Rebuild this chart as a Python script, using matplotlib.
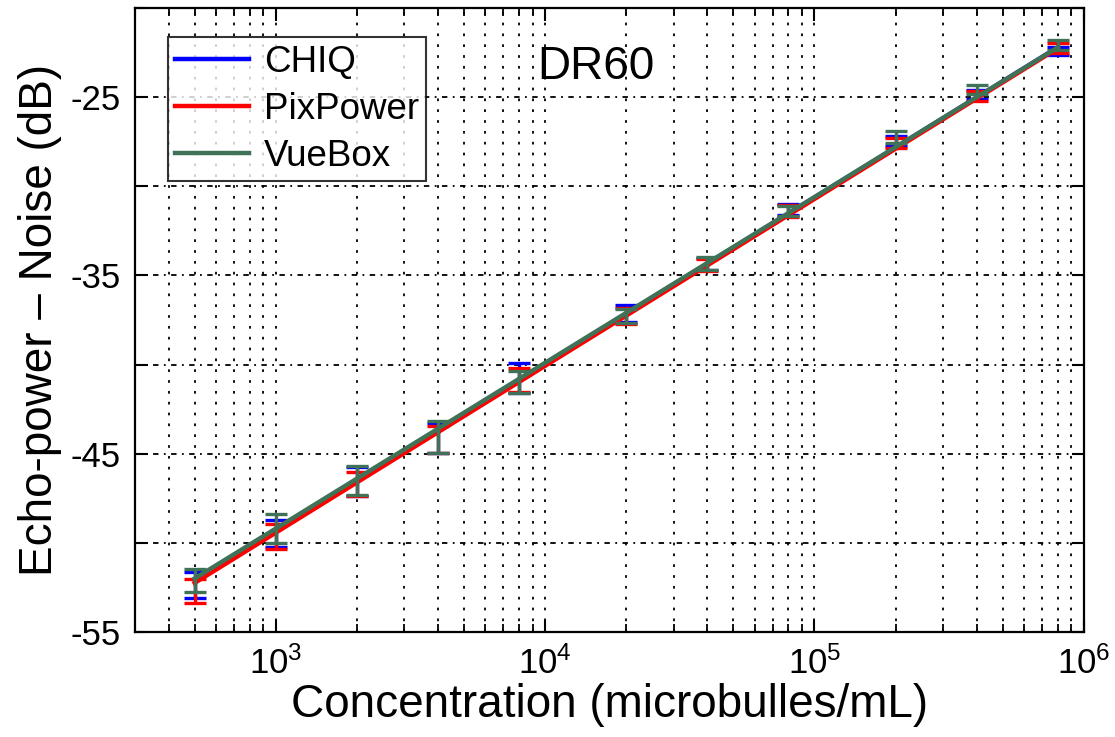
import numpy as np
import matplotlib
matplotlib.use("Agg")
import matplotlib.pyplot as plt
from matplotlib.lines import Line2D
from matplotlib.ticker import LogLocator, NullFormatter

plt.rcParams['font.family'] = ['Liberation Sans', 'DejaVu Sans']
plt.rcParams['mathtext.fontset'] = 'custom'
plt.rcParams['mathtext.rm'] = 'Liberation Sans'
plt.rcParams['mathtext.it'] = 'Liberation Sans'

# concentrations (microbulles/mL)
conc = [500, 1000, 2000, 4000, 8000, 20000, 40000, 80000, 200000, 400000, 800000]

# mean +- std for each software
chiq_mean = [-52.36, -49.47, -46.55, -44.10, -40.75, -37.15, -34.35, -31.30, -27.45, -24.85, -22.40]
chiq_err = [0.73, 0.76, 0.80, 0.84, 0.82, 0.48, 0.35, 0.30, 0.30, 0.25, 0.22]
pix_mean = [-52.70, -49.63, -46.69, -44.20, -40.85, -37.25, -34.40, -31.37, -27.55, -24.95, -22.23]
pix_err = [0.65, 0.71, 0.68, 0.78, 0.67, 0.45, 0.35, 0.33, 0.28, 0.28, 0.27]
vue_mean = [-52.10, -49.19, -46.49, -44.05, -41.00, -37.26, -34.33, -31.38, -27.24, -24.57, -22.07]
vue_err = [0.65, 0.82, 0.82, 0.90, 0.62, 0.38, 0.37, 0.28, 0.35, 0.24, 0.30]

# regression lines: dB = slope*log10(conc) + intercept
chiq_fit = [9.33, -77.28]
pix_fit = [9.36, -77.51]
vue_fit = [9.30, -77.10]

series = [("CHIQ", chiq_mean, chiq_err, chiq_fit, "#0000ff"),
          ("PixPower", pix_mean, pix_err, pix_fit, "#ff0000"),
          ("VueBox", vue_mean, vue_err, vue_fit, "#3f7257")]

yticks = [-55, -50, -45, -40, -35, -30, -25, -20]
ylabels = ["-55", "", "-45", "", "-35", "", "-25", ""]

fig = plt.figure(figsize=(11.15, 7.37), dpi=100)
ax = fig.add_axes([0.121, 0.1425, 0.851, 0.8465])

lx = np.log10(conc)
handles = []
for name, m, e, fit, c in series:
    ax.plot(conc, np.polyval(fit, lx), color=c, lw=3.2, zorder=3)
    ax.errorbar(conc, m, yerr=e, fmt='none', ecolor=c, elinewidth=2.4,
                capsize=8, capthick=2.4, zorder=3)
    handles.append(Line2D([], [], color=c, lw=3.2, label=name))

ax.set_xscale('log')
ax.set_xlim(300, 1e6)
ax.set_ylim(-55, -20)
ax.set_yticks(yticks)
ax.set_yticklabels(ylabels)
ax.xaxis.set_major_locator(LogLocator(base=10, numticks=10))
ax.xaxis.set_minor_locator(LogLocator(base=10, subs=np.arange(2, 10), numticks=20))
ax.xaxis.set_minor_formatter(NullFormatter())

# MATLAB style grid
ax.grid(True, which='both', axis='x', color='black', lw=1.3, linestyle=(0, (1.5, 4.5)))
ax.grid(True, which='major', axis='y', color='black', lw=1.3, linestyle=(0, (3, 3, 1, 3)))
ax.set_axisbelow(True)

ax.tick_params(which='both', direction='in', top=True, right=True, colors='black')
ax.tick_params(which='major', length=9, width=1.5, labelsize=25, pad=10)
ax.tick_params(which='minor', length=6, width=1.3)
for s in ax.spines.values():
    s.set_linewidth(1.6)

ax.set_xlabel("Concentration (microbulles/mL)", fontsize=33, labelpad=2)
ax.set_ylabel("Echo-power \u2013 Noise (dB)", fontsize=33, labelpad=6)

ax.text(0.486, 0.905, "DR60", transform=ax.transAxes, fontsize=33,
        ha='center', va='center')

leg = ax.legend(handles=handles, loc='upper left', bbox_to_anchor=(0.035, 0.953),
                fontsize=26.5, frameon=True, fancybox=False, edgecolor='black',
                handlelength=2.0, handletextpad=0.4, borderpad=0.2,
                labelspacing=0.33, borderaxespad=0)
leg.get_frame().set_linewidth(1.5)

fig.savefig("out.png", dpi=100)
